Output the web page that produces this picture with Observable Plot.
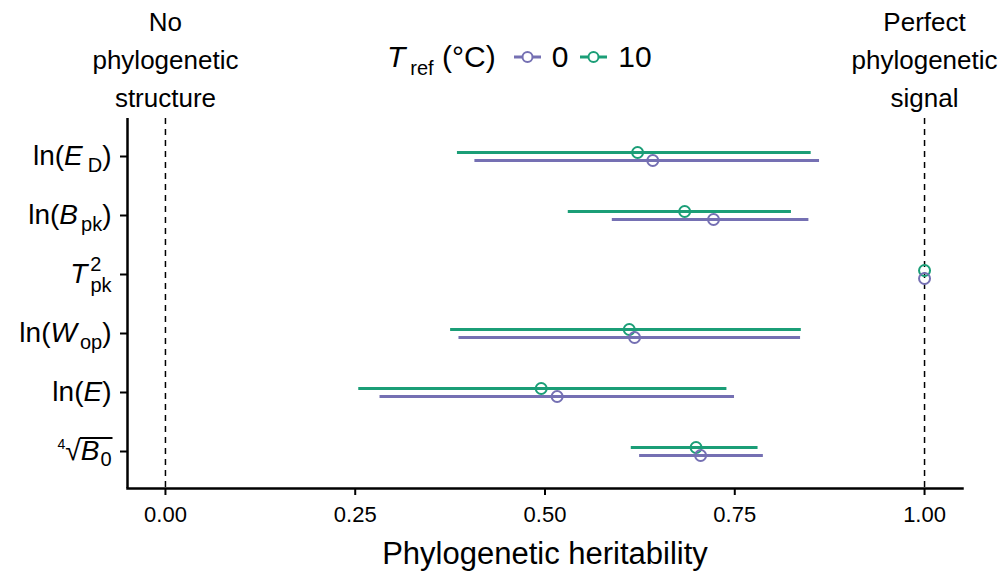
<!DOCTYPE html>
<html>
<head>
<meta charset="utf-8">
<script src="https://cdn.jsdelivr.net/npm/d3@7"></script>
<script src="https://cdn.jsdelivr.net/npm/@observablehq/plot@0.6"></script>
<style>
  html, body { margin: 0; padding: 0; background: #fff; }
  body { font-family: "Liberation Sans", Arial, Helvetica, sans-serif; }
  #wrap { position: relative; width: 1002px; height: 573px; }
  #legend { position: absolute; left: 387px; top: 37px; height: 40px; display: flex; align-items: center; font-size: 30px; color: #000; white-space: nowrap; }
  #legend .k { display: inline-flex; align-items: center; margin-left: 12px; }
  #legend .k svg { margin-right: 11px; }
</style>
</head>
<body>
<div id="wrap"><div id="legend"></div></div>
<script>
// ---- data ----
const traits = ["lnED", "lnBpk", "Tpk2", "lnWop", "lnE", "B0"];
const traitLabels = [
  'ln(<tspan font-style="italic">E</tspan><tspan dx="5" dy="7" font-size="20">D</tspan><tspan dy="-7">)</tspan>',
  'ln(<tspan font-style="italic">B</tspan><tspan dx="3" dy="7" font-size="20">pk</tspan><tspan dy="-7">)</tspan>',
  '<tspan font-style="italic">T</tspan><tspan dx="3" dy="-12" font-size="20">2</tspan><tspan dx="-11" dy="21" font-size="20">pk</tspan><tspan dy="-9"></tspan>',
  'ln(<tspan font-style="italic">W</tspan><tspan dx="3" dy="7" font-size="20">op</tspan><tspan dy="-7">)</tspan>',
  'ln(<tspan font-style="italic">E</tspan>)',
  '<tspan font-size="14" dy="-11">4</tspan><tspan dx="0" dy="11">√</tspan><tspan font-style="italic">B</tspan><tspan dx="1" dy="6" font-size="20">0</tspan><tspan dy="-6"></tspan>'
];
const tempLevels = ["0", "10"];
const tempColors = ["#7570b3", "#1b9e77"];
// T_ref = 0 °C
const est0 = [0.642, 0.722, 1.000, 0.618, 0.516, 0.705];
const lo0  = [0.407, 0.588, 1.000, 0.386, 0.282, 0.624];
const hi0  = [0.861, 0.847, 1.000, 0.836, 0.749, 0.787];
// T_ref = 10 °C
const est10 = [0.622, 0.684, 1.000, 0.611, 0.495, 0.699];
const lo10  = [0.384, 0.530, 1.000, 0.375, 0.254, 0.613];
const hi10  = [0.850, 0.824, 1.000, 0.837, 0.739, 0.780];
const xTicks = [0, 0.25, 0.5, 0.75, 1];
const refLines = [0, 1];
const refLabels = ["No\nphylogenetic\nstructure", "Perfect\nphylogenetic\nsignal"];

const rows0 = traits.map((t, i) => ({trait: t, temp: "0", est: est0[i], lo: lo0[i], hi: hi0[i]}));
const rows10 = traits.map((t, i) => ({trait: t, temp: "10", est: est10[i], lo: lo10[i], hi: hi10[i]}));
const refs = refLines.map((x, i) => ({x, label: refLabels[i]}));

const font = '"Liberation Sans", Arial, Helvetica, sans-serif';

const chart = Plot.plot({
  width: 1002,
  height: 573,
  marginLeft: 127,
  marginRight: 40,
  marginTop: 118,
  marginBottom: 85,
  style: {fontFamily: font, color: "#000", background: "#fff", overflow: "visible"},
  x: {domain: [-0.05, 1.05]},
  y: {type: "point", domain: traits, padding: 0.6},
  marks: [
    Plot.ruleX(refLines, {x: d => d, stroke: "#000", strokeWidth: 1.5, strokeDasharray: "6,5"}),
    Plot.text(refs, {x: "x", text: "label", frameAnchor: "top", lineAnchor: "bottom", dy: -12, lineHeight: 1.46, fontSize: 26, fill: "#000"}),
    Plot.link(rows10, {x1: "lo", x2: "hi", y1: "trait", y2: "trait", dy: -4, stroke: tempColors[1], strokeWidth: 3}),
    Plot.link(rows0, {x1: "lo", x2: "hi", y1: "trait", y2: "trait", dy: 4, stroke: tempColors[0], strokeWidth: 3}),
    Plot.dot(rows10, {x: "est", y: "trait", dy: -4, r: 5.5, stroke: tempColors[1], strokeWidth: 2, fill: "none"}),
    Plot.dot(rows0, {x: "est", y: "trait", dy: 4, r: 5.5, stroke: tempColors[0], strokeWidth: 2, fill: "none"}),
    Plot.ruleX([-0.05], {stroke: "#000", strokeWidth: 2.5}),
    Plot.frame({anchor: "bottom", stroke: "#000", strokeWidth: 2.5}),
    Plot.axisX({ticks: xTicks, tickFormat: d3.format(".2f"), tickSize: 7, tickPadding: 11, fontSize: 22, strokeWidth: 2, label: null}),
    Plot.axisY({tickSize: 7, tickPadding: 9, fontSize: 28, strokeWidth: 2, label: null, tickFormat: d => d}),
    Plot.text(["Phylogenetic heritability"], {frameAnchor: "bottom", text: d => d, lineAnchor: "bottom", dy: 75, fontSize: 31, fill: "#000"})
  ]
});

document.getElementById("wrap").prepend(chart);
chart.style.position = "absolute";
chart.style.left = "0";
chart.style.top = "0";

// rich y tick labels
d3.select(chart).selectAll('[aria-label="y-axis tick label"] text').each(function() {
  const idx = traits.indexOf(this.textContent);
  if (idx < 0) return;
  this.innerHTML = traitLabels[idx];
  if (traits[idx] === "B0") {
    // radical vinculum over B0
    const rad = this.getExtentOfChar(1);
    const end = this.getEndPositionOfChar(3);
    const y = rad.y + 2.5;
    const ns = "http://www.w3.org/2000/svg";
    const line = document.createElementNS(ns, "line");
    line.setAttribute("x1", rad.x + rad.width - 1);
    line.setAttribute("x2", end.x + 1);
    line.setAttribute("y1", y);
    line.setAttribute("y2", y);
    line.setAttribute("stroke", "#000");
    line.setAttribute("stroke-width", "2");
    const tr = this.getAttribute("transform");
    if (tr) line.setAttribute("transform", tr);
    this.parentNode.appendChild(line);
  }
});

// legend
const legend = document.getElementById("legend");
legend.innerHTML = '<span style="margin-right:6px"><i>T</i><span style="font-size:20px;position:relative;top:8px;margin-left:5px">ref</span> (°C)</span>';
tempLevels.forEach((lvl, i) => {
  const k = document.createElement("span");
  k.className = "k";
  k.innerHTML = `<svg width="27" height="14"><line x1="0" x2="27" y1="7" y2="7" stroke="${tempColors[i]}" stroke-width="3"/><circle cx="13.5" cy="7" r="5" fill="#fff" stroke="${tempColors[i]}" stroke-width="2"/></svg>${lvl}`;
  legend.appendChild(k);
});
</script>
</body>
</html>
